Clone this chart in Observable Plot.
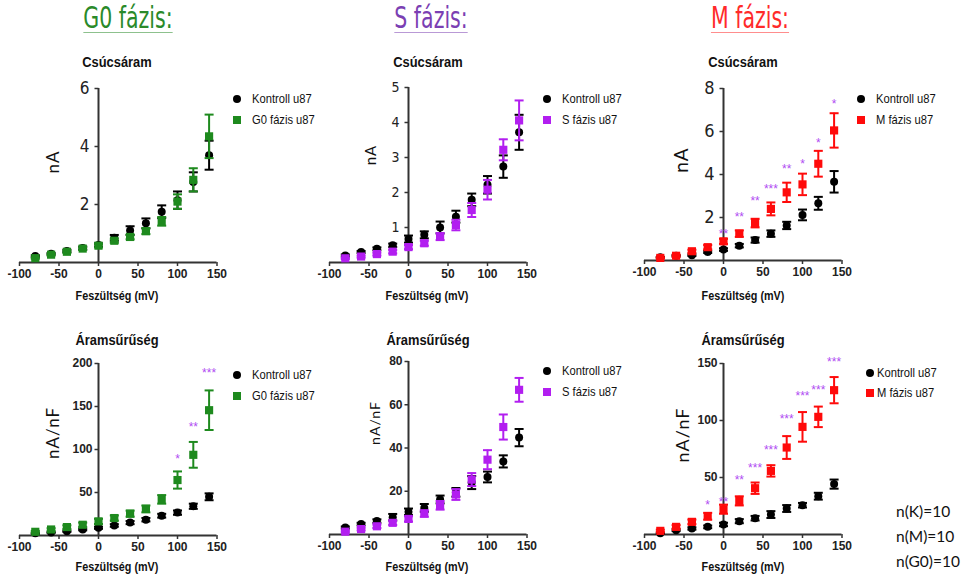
<!DOCTYPE html>
<html><head><meta charset="utf-8">
<script src="https://cdn.jsdelivr.net/npm/d3@7"></script>
<script src="https://cdn.jsdelivr.net/npm/@observablehq/plot@0.6"></script>
<style>
body{margin:0;background:#fff;}
#root{position:relative;width:961px;height:578px;overflow:hidden;background:#fff;font-family:"Liberation Sans",Arial,sans-serif;color:#111;}
.abs{position:absolute;white-space:nowrap;line-height:1;}
.c{transform:translate(-50%,-50%);}
.phase{font-family:"DejaVu Sans Condensed","DejaVu Sans",sans-serif;font-size:30px;text-decoration:underline;text-decoration-thickness:1px;text-underline-offset:4px;}
.ptitle{font-weight:bold;font-size:14px;}
.xlab{font-weight:bold;font-size:12px;}
.ylab{font-family:Lato,"Open Sans",sans-serif;letter-spacing:1px;}
.leg{font-size:13px;transform:scaleX(0.86);transform-origin:0 50%;}
.mk{position:absolute;}
.nlab{font-family:Lato,sans-serif;font-size:15.5px;}
svg.plotsvg{position:absolute;overflow:visible;}
</style></head>
<body><div id="root"></div>
<script>
// ---------- data ----------
const voltage = [-80,-60,-40,-20,0,20,40,60,80,100,120,140];
const xTicks = [-100,-50,0,50,100,150];

// G0 fázis – Csúcsáram (nA)
const g0PeakKontroll    = [0.22,0.30,0.40,0.50,0.60,0.85,1.10,1.35,1.75,2.15,2.78,3.70];
const g0PeakKontrollErr = [0.03,0.03,0.04,0.05,0.06,0.10,0.15,0.17,0.22,0.30,0.33,0.50];
const g0PeakPhase       = [0.15,0.27,0.37,0.48,0.58,0.75,0.88,1.08,1.42,2.10,2.85,4.35];
const g0PeakPhaseErr    = [0.02,0.03,0.04,0.05,0.06,0.07,0.08,0.10,0.15,0.25,0.40,0.75];

// S fázis – Csúcsáram (nA)
const sPeakKontroll    = [0.20,0.30,0.39,0.49,0.67,0.79,1.00,1.31,1.79,2.22,2.74,3.72];
const sPeakKontrollErr = [0.03,0.03,0.04,0.05,0.10,0.10,0.17,0.17,0.18,0.25,0.32,0.50];
const sPeakPhase       = [0.12,0.17,0.24,0.31,0.44,0.55,0.74,1.07,1.50,2.08,3.22,4.06];
const sPeakPhaseErr    = [0.02,0.03,0.04,0.05,0.06,0.07,0.10,0.15,0.20,0.28,0.30,0.57];

// M fázis – Csúcsáram (nA)
const mPeakKontroll    = [0.15,0.22,0.25,0.40,0.51,0.69,0.95,1.25,1.63,2.12,2.66,3.66];
const mPeakKontrollErr = [0.02,0.03,0.04,0.05,0.06,0.08,0.12,0.15,0.17,0.25,0.30,0.50];
const mPeakPhase       = [0.12,0.22,0.43,0.62,0.89,1.25,1.74,2.40,3.17,3.54,4.50,6.05];
const mPeakPhaseErr    = [0.03,0.05,0.07,0.10,0.12,0.15,0.20,0.30,0.45,0.50,0.60,0.80];
const mPeakStarV     = [0,20,40,60,80,100,120,140];
const mPeakStarY     = [1.35,2.15,2.90,3.46,4.40,4.60,5.60,7.40];
const mPeakStarLabel = ["**","**","**","***","**","*","*","*"];

// G0 fázis – Áramsűrűség (nA/nF)
const g0DensKontroll    = [2.5,3.5,5.0,7.0,9.0,11.7,15.0,18.4,23.0,26.6,34.0,45.0];
const g0DensKontrollErr = [0.5,0.6,0.8,1.0,1.2,1.5,1.8,2.0,2.2,2.5,3.0,4.0];
const g0DensPhase       = [4.3,7.0,9.8,12.5,16.4,20.3,25.4,30.9,42.0,64.5,93.8,145.7];
const g0DensPhaseErr    = [1.0,1.5,2.0,2.5,3.0,3.0,3.5,4.0,5.0,10.0,15.0,23.0];
const g0DensStarV     = [100,120,140];
const g0DensStarY     = [91.8,129.7,192.0];
const g0DensStarLabel = ["*","**","***"];

// S fázis – Áramsűrűség (nA/nF)
const sDensKontroll    = [3.2,4.8,6.2,8.0,10.5,12.3,16.2,19.5,24.0,26.6,33.8,44.8];
const sDensKontrollErr = [0.5,0.6,0.8,1.5,1.5,1.8,1.8,2.0,3.0,2.5,2.8,4.0];
const sDensPhase       = [1.3,2.5,3.8,5.4,7.2,9.7,13.5,18.5,25.4,34.6,49.7,66.9];
const sDensPhaseErr    = [0.4,0.6,0.8,1.0,1.2,1.5,2.0,2.5,3.0,4.4,5.8,5.5];

// M fázis – Áramsűrűség (nA/nF)
const mDensKontroll    = [1.0,3.8,5.3,6.7,8.8,11.7,14.3,17.5,22.8,25.7,33.6,44.2];
const mDensKontrollErr = [0.5,0.8,1.0,1.2,1.5,1.8,2.0,3.0,3.0,2.0,3.0,4.0];
const mDensPhase       = [3.2,6.7,11.1,16.0,22.2,29.5,40.6,55.8,76.3,94.4,103.2,126.6];
const mDensPhaseErr    = [1.0,1.5,2.0,3.0,4.0,4.0,5.0,5.0,10.0,13.0,9.0,11.5];
const mDensStarV     = [-20,0,20,40,60,80,100,120,140];
const mDensStarY     = [28.7,30.7,50.6,60.8,76.9,103.8,124.3,129.5,153.5];
const mDensStarLabel = ["*","**","**","***","***","***","***","***","***"];

const seriesNames = {g0: "G0 fázis u87", s: "S fázis u87", m: "M fázis u87"};
const phaseTitles = {g0: "G0 fázis:", s: "S fázis:", m: "M fázis:"};
const colors = {g0: "#1e8a1e", s: "#b21ef0", m: "#ff0a0a"};
const titleColors = {g0: "#2a8a2a", s: "#7b3fb3", m: "#ff2a2a"};
const starColor = "#b04cf2";

// ---------- helpers ----------
const root = document.getElementById("root");
function addText(cls, txt, x, y, style = "") {
  const d = document.createElement("div");
  d.className = "abs " + cls;
  d.textContent = txt;
  d.style.cssText = `left:${x}px;top:${y}px;` + style;
  root.appendChild(d);
  return d;
}
const tickLeft = {draw(ctx, size) { const l = Math.sqrt(size / Math.PI); ctx.moveTo(0, 0); ctx.lineTo(-l, 0); }};
const hbar = {draw(ctx, size) { const l = Math.sqrt(size / Math.PI); ctx.moveTo(-l, 0); ctx.lineTo(l, 0); }};

function rows(v, m, e) { return v.map((x, i) => ({v: x, m: m[i], e: e[i]})); }

function seriesMarks(data, color, symbol, r) {
  return [
    Plot.ruleX(data, {x: "v", y1: d => d.m - d.e, y2: d => d.m + d.e, stroke: color, strokeWidth: 2}),
    Plot.dot(data, {x: "v", y: d => d.m + d.e, symbol: hbar, r: 4.5, fill: "none", stroke: color, strokeWidth: 2}),
    Plot.dot(data, {x: "v", y: d => d.m - d.e, symbol: hbar, r: 4.5, fill: "none", stroke: color, strokeWidth: 2}),
    Plot.dot(data, {x: "v", y: "m", symbol, r, fill: color, stroke: "none"})
  ];
}

// geometry: page pixel of x=-100, x=150, y=0 and y=yMax
function panel(cfg) {
  const {left, top, width, height, xa, xb, y0, yTop, yMax, yTicks, yFont, yBold, k, p, color, stars} = cfg;
  const marks = [
    Plot.ruleY([0], {stroke: "#333", strokeWidth: 2}),
    Plot.ruleX([0], {y1: 0, y2: yMax, stroke: "#333", strokeWidth: 2}),
    Plot.dot(yTicks, {x: 0, y: d => d, symbol: tickLeft, r: 4, fill: "none", stroke: "#333", strokeWidth: 1.5}),
    Plot.text(yTicks, {x: 0, y: d => d, text: d => String(d), textAnchor: "end", dx: yBold ? -6 : -9, fontSize: yFont, fontWeight: yBold ? "bold" : "normal", fill: "#222",
      fontFamily: yBold ? null : '"DejaVu Sans Condensed","DejaVu Sans",sans-serif'}),
    Plot.axisX({ticks: xTicks, tickFormat: d => String(d), tickSize: 4, tickPadding: 3, fontSize: 12, fontWeight: "bold", label: null, stroke: "#333", strokeWidth: 1.5}),
    ...seriesMarks(k, "#000", "circle", 4),
    ...seriesMarks(p, color, "square", 4.6)
  ];
  if (stars) marks.push(Plot.text(stars, {x: "v", y: "y", text: "t", fill: starColor, fontSize: 12, dy: 3}));
  const svg = Plot.plot({
    width, height,
    marginLeft: xa - left, marginRight: left + width - xb,
    marginTop: yTop - top, marginBottom: top + height - y0,
    x: {domain: [-100, 150], axis: null},
    y: {domain: [0, yMax], axis: null},
    style: {background: "transparent", fontFamily: '"Liberation Sans",Arial,sans-serif', color: "#222", overflow: "visible"},
    marks
  });
  svg.classList.add("plotsvg");
  svg.style.left = left + "px";
  svg.style.top = top + "px";
  root.appendChild(svg);
}

function legend(dotX, dotY, sqY, textX, key) {
  const c = document.createElement("div");
  c.className = "mk";
  c.style.cssText = `left:${dotX-4}px;top:${dotY-4}px;width:8px;height:8px;border-radius:50%;background:#000;`;
  root.appendChild(c);
  const s = document.createElement("div");
  s.className = "mk";
  s.style.cssText = `left:${dotX-4}px;top:${sqY-4}px;width:8px;height:8px;background:${colors[key]};`;
  root.appendChild(s);
  addText("leg", "Kontroll u87", textX, dotY - 7);
  addText("leg", seriesNames[key], textX, sqY - 7);
}

function stars(v, y, t) { return v.map((x, i) => ({v: x, y: y[i], t: t[i]})); }

// ---------- panels ----------
panel({left: 0, top: 70, width: 320, height: 240, xa: 19, xb: 216.5, y0: 262, yTop: 88, yMax: 6, yTicks: [2,4,6], yFont: 17,
  k: rows(voltage, g0PeakKontroll, g0PeakKontrollErr), p: rows(voltage, g0PeakPhase, g0PeakPhaseErr), color: colors.g0});
panel({left: 320, top: 70, width: 320, height: 240, xa: 329, xb: 526.5, y0: 262, yTop: 87, yMax: 5, yTicks: [1,2,3,4,5], yFont: 14,
  k: rows(voltage, sPeakKontroll, sPeakKontrollErr), p: rows(voltage, sPeakPhase, sPeakPhaseErr), color: colors.s});
panel({left: 640, top: 70, width: 321, height: 240, xa: 644, xb: 841.5, y0: 260, yTop: 88, yMax: 8, yTicks: [2,4,6,8], yFont: 18,
  k: rows(voltage, mPeakKontroll, mPeakKontrollErr), p: rows(voltage, mPeakPhase, mPeakPhaseErr), color: colors.m,
  stars: stars(mPeakStarV, mPeakStarY, mPeakStarLabel)});
panel({left: 0, top: 345, width: 320, height: 233, xa: 19, xb: 216.5, y0: 535, yTop: 363, yMax: 200, yTicks: [50,100,150,200], yFont: 12, yBold: true,
  k: rows(voltage, g0DensKontroll, g0DensKontrollErr), p: rows(voltage, g0DensPhase, g0DensPhaseErr), color: colors.g0,
  stars: stars(g0DensStarV, g0DensStarY, g0DensStarLabel)});
panel({left: 320, top: 345, width: 320, height: 233, xa: 329, xb: 526.5, y0: 534, yTop: 361, yMax: 80, yTicks: [20,40,60,80], yFont: 12, yBold: true,
  k: rows(voltage, sDensKontroll, sDensKontrollErr), p: rows(voltage, sDensPhase, sDensPhaseErr), color: colors.s});
panel({left: 640, top: 345, width: 321, height: 233, xa: 644, xb: 841.5, y0: 534, yTop: 363, yMax: 150, yTicks: [50,100,150], yFont: 12, yBold: true,
  k: rows(voltage, mDensKontroll, mDensKontrollErr), p: rows(voltage, mDensPhase, mDensPhaseErr), color: colors.m,
  stars: stars(mDensStarV, mDensStarY, mDensStarLabel)});

// ---------- text ----------
[["g0",128],["s",431],["m",750]].forEach(([k, cx]) => {
  addText("phase c", phaseTitles[k], cx, 18, `color:${titleColors[k]};text-decoration-color:${titleColors[k]}88;transform:translate(-50%,-50%) scaleX(0.76);`);
});
[[117,"Csúcsáram",62],[428,"Csúcsáram",62],[743,"Csúcsáram",62],[117,"Áramsűrűség",340],[428,"Áramsűrűség",340],[743,"Áramsűrűség",340]]
  .forEach(([x, t, y]) => addText("ptitle c", t, x, y, "transform:translate(-50%,-50%) scaleX(0.92);"));
[117,427,743].forEach(x => {
  addText("xlab c", "Feszültség (mV)", x, 296, "transform:translate(-50%,-50%) scaleX(0.9);");
  addText("xlab c", "Feszültség (mV)", x, 567, "transform:translate(-50%,-50%) scaleX(0.9);");
});
[[52,162,"nA",17],[370,155,"nA",15],[680,160,"nA",19],[52,433,"nA/nF",17],[375,423,"nA/nF",14],[682,435,"nA/nF",18]]
  .forEach(([x, y, t, fs]) => addText("ylab c", t, x, y, `font-size:${fs}px;transform:translate(-50%,-50%) rotate(-90deg);`));
legend(237, 99, 120, 252, "g0");
legend(547, 99, 120, 562, "s");
legend(861, 99, 120, 876, "m");
legend(237, 375, 396, 252, "g0");
legend(547, 371, 392, 562, "s");
legend(870, 373, 393, 877, "m");
addText("nlab", "n(K)=10", 896, 504);
addText("nlab", "n(M)=10", 896, 529);
addText("nlab", "n(G0)=10", 896, 554);
</script></body></html>
